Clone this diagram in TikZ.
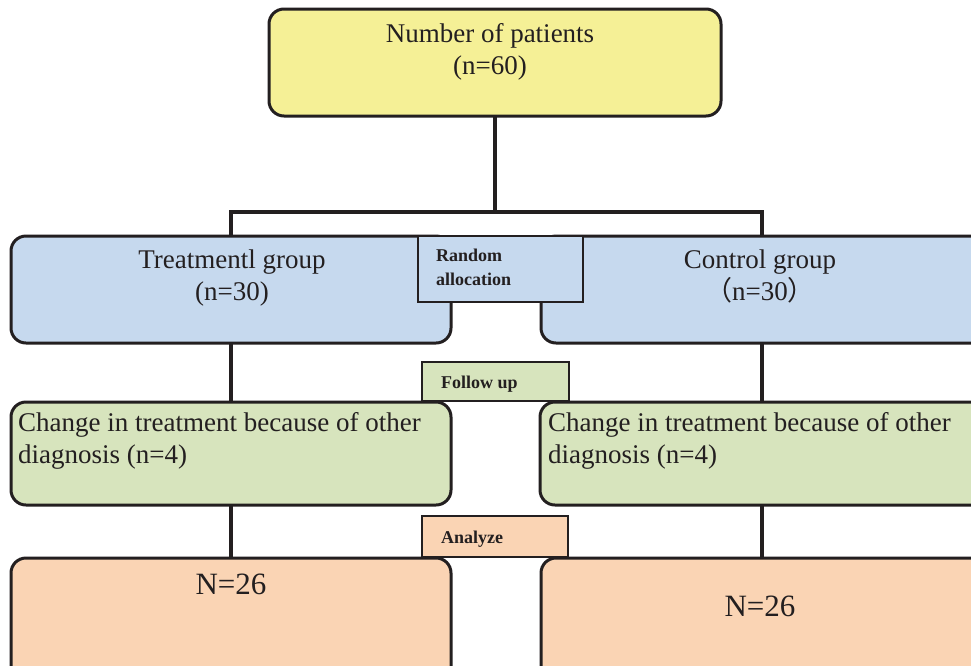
\documentclass[tikz,border=0pt]{standalone}
\usepackage{fontspec}
\usetikzlibrary{backgrounds}
\setmainfont{Liberation Serif}
\newfontfamily\cjk{Noto Sans CJK SC}
\definecolor{cyel}{HTML}{F5F096}
\definecolor{cblue}{HTML}{C6D9EE}
\definecolor{cgreen}{HTML}{D7E4BD}
\definecolor{corange}{HTML}{FAD4B4}
\definecolor{cline}{HTML}{231F20}
\tikzset{
  box/.style={draw=cline, line width=3pt, rounded corners=15pt, anchor=north west, inner sep=0pt, outer sep=0pt},
  lab/.style={draw=cline, line width=1.3pt, anchor=north west, inner sep=0pt, outer sep=0pt},
  conn/.style={draw=cline, line width=4pt},
  big/.style={font=\fontsize{27}{32}\selectfont, text=cline, inner sep=0pt},
  bold/.style={font=\fontsize{18}{24}\selectfont\bfseries, text=cline, inner sep=0pt, align=left, anchor=base west},
}
\begin{document}
\begin{tikzpicture}[x=1pt, y=-1pt]
\useasboundingbox (0,0) rectangle (971,665);
\clip (0,0) rectangle (971,665);
\coordinate (R) at (762,0);
% boxes
\node[box, fill=cyel, minimum width=452pt, minimum height=107pt] (top) at (269,9) {};
\node[box, fill=cblue, minimum width=440pt, minimum height=107pt] (tg) at (11,236) {};
\node[box, fill=cblue, minimum width=460pt, minimum height=107pt] (cg) at (541,236) {};
\node[box, fill=cgreen, minimum width=440pt, minimum height=103pt] (tc) at (11,402) {};
\node[box, fill=cgreen, minimum width=460pt, minimum height=103pt] (cc) at (540,402) {};
\node[box, fill=corange, minimum width=440pt, minimum height=140pt] (tn) at (11,558) {};
\node[box, fill=corange, minimum width=460pt, minimum height=140pt] (cn) at (541,558) {};
\coordinate (split) at (top.south |- 0,212);
% connectors behind the boxes
\begin{scope}[on background layer]
\fill[white] (0,0) rectangle (971,665);
\path[conn] (top.south) -- (split);
\path[conn] (tg.north) |- (split) -| (cg.north -| R);
\path[conn] (tg.south) -- (tc.north);
\path[conn] (cg.south -| R) -- (cc.north -| R);
\path[conn] (tc.south) -- (tn.north);
\path[conn] (cc.south -| R) -- (cn.north -| R);
\end{scope}
% label boxes
\node[lab, fill=cblue, minimum width=165pt, minimum height=66pt] (ra) at (418,236) {};
\node[lab, fill=cgreen, minimum width=147pt, minimum height=39pt] (fu) at (422,362) {};
\node[lab, fill=corange, minimum width=146pt, minimum height=41pt] (an) at (422,516) {};
% texts (multi-line nodes: base = last line)
\node[big, align=center, anchor=base] (ttop) at (490,74) {Number of patients\\(n=60)};
\node[big, align=center, anchor=base] (ttg) at (232,300) {Treatmentl group\\(n=30)};
\node[big, align=center, anchor=base] (tcg) at (760,300) {Control group\\{\cjk（}n=30{\cjk）}};
\node[big, align=left, anchor=base west] (ttc) at (18,463) {Change in treatment because of other\\diagnosis (n=4)};
\node[big, align=left, anchor=base west] (tcc) at (548,463) {Change in treatment because of other\\diagnosis (n=4)};
\node[big, font=\fontsize{31}{36}\selectfont, anchor=base] (ttn) at (231,594) {N=26};
\node[big, font=\fontsize{31}{36}\selectfont, anchor=base] (tcn) at (760,616) {N=26};
\node[bold] (tra) at (436,285) {Random\\allocation};
\node[bold] (tfu) at (441,388) {Follow up};
\node[bold] (tan) at (441,543) {Analyze};
\end{tikzpicture}
\end{document}
